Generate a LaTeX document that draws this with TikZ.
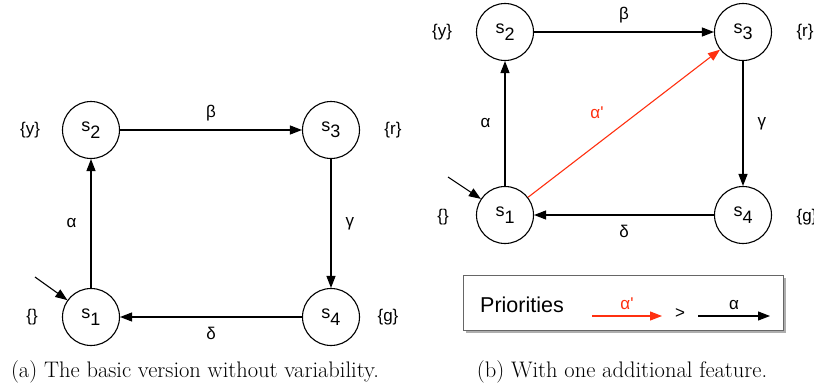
\documentclass[tikz,border=0pt]{standalone}
\usepackage{fontspec}
\newfontfamily\hv{Liberation Sans}
\usetikzlibrary{arrows.meta,shadows}
\definecolor{ared}{RGB}{255,48,16}
\newcommand\stname[2]{s\raisebox{-0.36em}{#1}}
\begin{document}
\begin{tikzpicture}[x=1pt,y=-1pt,
  state/.style={circle, draw, line width=1.1pt, minimum size=57pt, inner sep=0pt, font=\hv\fontsize{18}{21}\selectfont},
  lab/.style={font=\hv\fontsize{17}{20}\selectfont, inner sep=0pt},
  edge/.style={line width=1.1pt, -{Triangle[length=12pt,width=9pt]}},
  redge/.style={edge, draw=ared, color=ared},
  capt/.style={font=\fontsize{22.5}{26}\selectfont, inner sep=0pt}]
\useasboundingbox (0,0) rectangle (814,388);
% ---------- (a) ----------
\node[state] (a1) at (91,317) {\stname{1}{}};
\node[state] (a2) at (91,130) {\stname{2}{}};
\node[state] (a3) at (331,130) {\stname{3}{}};
\node[state] (a4) at (331,317) {\stname{4}{}};
\node[lab] (la1) at (32,317) {\{\}};
\node[lab] (la2) at (30,130) {\{y\}};
\node[lab] (la3) at (393,130) {\{r\}};
\node[lab] (la4) at (388,317) {\{g\}};
\coordinate (ia) at (35,277);
\draw[edge] (ia) -- (a1);
\draw[edge] (a1) -- node[lab, left=14pt] {α} (a2);
\draw[edge] (a2) -- node[lab, above=8pt] {β} (a3);
\draw[edge] (a3) -- node[lab, right=14pt] {γ} (a4);
\draw[edge] (a4) -- node[lab, below=10pt] {δ} (a1);
\node[capt] (capa) at (195,372) {(a) The basic version without variability.};
% ---------- (b) ----------
\node[state] (b1) at (505,215) {\stname{1}{}};
\node[state] (b2) at (505,32) {\stname{2}{}};
\node[state] (b3) at (743,32) {\stname{3}{}};
\node[state] (b4) at (743,215) {\stname{4}{}};
\node[lab] (lb1) at (443,217) {\{\}};
\node[lab] (lb2) at (442,32) {\{y\}};
\node[lab] (lb3) at (805,32) {\{r\}};
\node[lab] (lb4) at (807,217) {\{g\}};
\coordinate (ib) at (448,177);
\draw[edge] (ib) -- (b1);
\draw[edge] (b1) -- node[lab, left=14pt] {α} (b2);
\draw[edge] (b2) -- node[lab, above=8pt] {β} (b3);
\draw[edge] (b3) -- node[lab, right=14pt] {γ} (b4);
\draw[edge] (b4) -- node[lab, below=10pt] {δ} (b1);
\draw[redge] (b1) -- node[lab, pos=0.5, xshift=-27pt, yshift=10.5pt, text=ared] {α'} (b3);
% priorities box
\node[draw=black!60, fill=white, line width=1pt, minimum width=320pt, minimum height=55pt,
  drop shadow={shadow xshift=3pt, shadow yshift=-3pt, opacity=0.45, fill=black!70}] (prio) at (623,302.5) {};
\node[font=\hv\fontsize{21.5}{25}\selectfont, inner sep=0pt] (ptxt) at (522,305) {Priorities};
\coordinate (r1) at (592,316);
\coordinate (r2) at (662,316);
\coordinate (k1) at (698,316);
\coordinate (k2) at (770,316);
\draw[redge] (r1) -- node[lab, above=6pt, text=ared] {α'} (r2);
\node[lab] (gt) at (680,314) {>};
\draw[edge] (k1) -- node[lab, above=6pt] {α} (k2);
\node[capt] (capb) at (622,372) {(b) With one additional feature.};
\end{tikzpicture}
\end{document}
